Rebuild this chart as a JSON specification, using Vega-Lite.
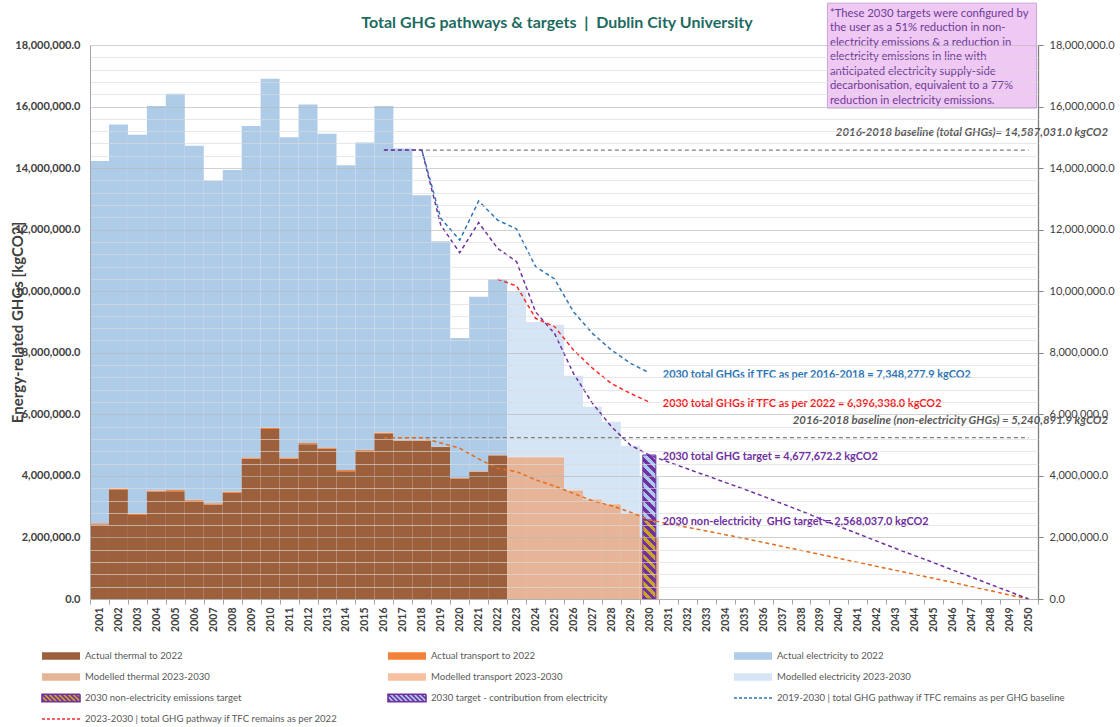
{
  "$schema": "https://vega.github.io/schema/vega-lite/v6.json",
  "width": 948,
  "height": 554,
  "autosize": {"type": "none"},
  "padding": {"left": 90, "top": 45, "right": 82, "bottom": 128},
  "background": "white",
  "config": {"view": {"stroke": null}, "font": "Lato"},
  "title": {
    "text": "Total GHG pathways & targets \u00a0|\u00a0 Dublin City University",
    "font": "Lato", "fontSize": 16, "fontWeight": "bold", "color": "#1d6b5f",
    "anchor": "middle", "frame": "group", "offset": 13, "dx": -7, "dy": 41
  },
  "datasets": {
    "bars": [
      {"year":"2001","s":"Actual thermal to 2022","v":2420000},{"year":"2001","s":"Actual transport to 2022","v":40000},{"year":"2001","s":"Actual electricity to 2022","v":11770000},
      {"year":"2002","s":"Actual thermal to 2022","v":3540000},{"year":"2002","s":"Actual transport to 2022","v":40000},{"year":"2002","s":"Actual electricity to 2022","v":11840000},
      {"year":"2003","s":"Actual thermal to 2022","v":2730000},{"year":"2003","s":"Actual transport to 2022","v":40000},{"year":"2003","s":"Actual electricity to 2022","v":12310000},
      {"year":"2004","s":"Actual thermal to 2022","v":3480000},{"year":"2004","s":"Actual transport to 2022","v":40000},{"year":"2004","s":"Actual electricity to 2022","v":12500000},
      {"year":"2005","s":"Actual thermal to 2022","v":3500000},{"year":"2005","s":"Actual transport to 2022","v":40000},{"year":"2005","s":"Actual electricity to 2022","v":12880000},
      {"year":"2006","s":"Actual thermal to 2022","v":3190000},{"year":"2006","s":"Actual transport to 2022","v":40000},{"year":"2006","s":"Actual electricity to 2022","v":11500000},
      {"year":"2007","s":"Actual thermal to 2022","v":3070000},{"year":"2007","s":"Actual transport to 2022","v":40000},{"year":"2007","s":"Actual electricity to 2022","v":10480000},
      {"year":"2008","s":"Actual thermal to 2022","v":3450000},{"year":"2008","s":"Actual transport to 2022","v":40000},{"year":"2008","s":"Actual electricity to 2022","v":10450000},
      {"year":"2009","s":"Actual thermal to 2022","v":4560000},{"year":"2009","s":"Actual transport to 2022","v":40000},{"year":"2009","s":"Actual electricity to 2022","v":10770000},
      {"year":"2010","s":"Actual thermal to 2022","v":5520000},{"year":"2010","s":"Actual transport to 2022","v":40000},{"year":"2010","s":"Actual electricity to 2022","v":11340000},
      {"year":"2011","s":"Actual thermal to 2022","v":4560000},{"year":"2011","s":"Actual transport to 2022","v":40000},{"year":"2011","s":"Actual electricity to 2022","v":10400000},
      {"year":"2012","s":"Actual thermal to 2022","v":5030000},{"year":"2012","s":"Actual transport to 2022","v":40000},{"year":"2012","s":"Actual electricity to 2022","v":11000000},
      {"year":"2013","s":"Actual thermal to 2022","v":4880000},{"year":"2013","s":"Actual transport to 2022","v":40000},{"year":"2013","s":"Actual electricity to 2022","v":10200000},
      {"year":"2014","s":"Actual thermal to 2022","v":4150000},{"year":"2014","s":"Actual transport to 2022","v":40000},{"year":"2014","s":"Actual electricity to 2022","v":9900000},
      {"year":"2015","s":"Actual thermal to 2022","v":4810000},{"year":"2015","s":"Actual transport to 2022","v":40000},{"year":"2015","s":"Actual electricity to 2022","v":9980000},
      {"year":"2016","s":"Actual thermal to 2022","v":5360000},{"year":"2016","s":"Actual transport to 2022","v":40000},{"year":"2016","s":"Actual electricity to 2022","v":10620000},
      {"year":"2017","s":"Actual thermal to 2022","v":5145000},{"year":"2017","s":"Actual transport to 2022","v":15000},{"year":"2017","s":"Actual electricity to 2022","v":9480000},
      {"year":"2018","s":"Actual thermal to 2022","v":5145000},{"year":"2018","s":"Actual transport to 2022","v":15000},{"year":"2018","s":"Actual electricity to 2022","v":7960000},
      {"year":"2019","s":"Actual thermal to 2022","v":4935000},{"year":"2019","s":"Actual transport to 2022","v":15000},{"year":"2019","s":"Actual electricity to 2022","v":6670000},
      {"year":"2020","s":"Actual thermal to 2022","v":3915000},{"year":"2020","s":"Actual transport to 2022","v":15000},{"year":"2020","s":"Actual electricity to 2022","v":4550000},
      {"year":"2021","s":"Actual thermal to 2022","v":4135000},{"year":"2021","s":"Actual transport to 2022","v":15000},{"year":"2021","s":"Actual electricity to 2022","v":5670000},
      {"year":"2022","s":"Actual thermal to 2022","v":4665000},{"year":"2022","s":"Actual transport to 2022","v":15000},{"year":"2022","s":"Actual electricity to 2022","v":5710000},
      {"year":"2023","s":"Modelled thermal 2023-2030","v":4605000},{"year":"2023","s":"Modelled transport 2023-2030","v":15000},{"year":"2023","s":"Modelled electricity 2023-2030","v":5360000},
      {"year":"2024","s":"Modelled thermal 2023-2030","v":4605000},{"year":"2024","s":"Modelled transport 2023-2030","v":15000},{"year":"2024","s":"Modelled electricity 2023-2030","v":4380000},
      {"year":"2025","s":"Modelled thermal 2023-2030","v":4605000},{"year":"2025","s":"Modelled transport 2023-2030","v":15000},{"year":"2025","s":"Modelled electricity 2023-2030","v":4280000},
      {"year":"2026","s":"Modelled thermal 2023-2030","v":3525000},{"year":"2026","s":"Modelled transport 2023-2030","v":15000},{"year":"2026","s":"Modelled electricity 2023-2030","v":3710000},
      {"year":"2027","s":"Modelled thermal 2023-2030","v":3235000},{"year":"2027","s":"Modelled transport 2023-2030","v":15000},{"year":"2027","s":"Modelled electricity 2023-2030","v":3000000},
      {"year":"2028","s":"Modelled thermal 2023-2030","v":3075000},{"year":"2028","s":"Modelled transport 2023-2030","v":15000},{"year":"2028","s":"Modelled electricity 2023-2030","v":2670000},
      {"year":"2029","s":"Modelled thermal 2023-2030","v":2765000},{"year":"2029","s":"Modelled transport 2023-2030","v":15000},{"year":"2029","s":"Modelled electricity 2023-2030","v":2200000},
      {"year":"2030","s":"Modelled thermal 2023-2030","v":1985000},{"year":"2030","s":"Modelled transport 2023-2030","v":15000},{"year":"2030","s":"Modelled electricity 2023-2030","v":1970000}
    ],
    "targets": [
      {"year":"2030","lo":0,"hi":2568037,"part":"non-electricity"},
      {"year":"2030","lo":2568037,"hi":4677672.2,"part":"electricity"}
    ],
    "base_total": [{"year":"2016","v":14587031},{"year":"2050","v":14587031}],
    "base_nonel": [{"year":"2016","v":5240891.9},{"year":"2050","v":5240891.9}],
    "nonel": [
      {"year":"2016","v":5240891.9},{"year":"2017","v":5240891.9},{"year":"2018","v":5240891.9},{"year":"2019","v":5070000},{"year":"2020","v":4900000},{"year":"2021","v":4550000},{"year":"2022","v":4250000},{"year":"2023","v":4140000},{"year":"2024","v":3870000},{"year":"2025","v":3670000},{"year":"2026","v":3430000},{"year":"2027","v":3190000},{"year":"2028","v":3030000},{"year":"2029","v":2820000},{"year":"2030","v":2568037},
      {"year":"2031","v":2450000},{"year":"2032","v":2330000},{"year":"2033","v":2210000},{"year":"2034","v":2090000},{"year":"2035","v":1970000},{"year":"2036","v":1840000},{"year":"2037","v":1710000},{"year":"2038","v":1580000},{"year":"2039","v":1450000},{"year":"2040","v":1320000},{"year":"2041","v":1190000},{"year":"2042","v":1060000},{"year":"2043","v":930000},{"year":"2044","v":800000},{"year":"2045","v":670000},{"year":"2046","v":540000},{"year":"2047","v":400000},{"year":"2048","v":270000},{"year":"2049","v":130000},{"year":"2050","v":0}
    ],
    "tgt": [
      {"year":"2016","v":14587031},{"year":"2017","v":14587031},{"year":"2018","v":14587031},{"year":"2019","v":12150000},{"year":"2020","v":11250000},{"year":"2021","v":12230000},{"year":"2022","v":11390000},{"year":"2023","v":10960000},{"year":"2024","v":9330000},{"year":"2025","v":8630000},{"year":"2026","v":7330000},{"year":"2027","v":6360000},{"year":"2028","v":5600000},{"year":"2029","v":5000000},{"year":"2030","v":4677672.2},
      {"year":"2031","v":4450000},{"year":"2032","v":4230000},{"year":"2033","v":4010000},{"year":"2034","v":3790000},{"year":"2035","v":3570000},{"year":"2036","v":3340000},{"year":"2037","v":3100000},{"year":"2038","v":2860000},{"year":"2039","v":2610000},{"year":"2040","v":2360000},{"year":"2041","v":2120000},{"year":"2042","v":1880000},{"year":"2043","v":1640000},{"year":"2044","v":1410000},{"year":"2045","v":1180000},{"year":"2046","v":940000},{"year":"2047","v":710000},{"year":"2048","v":470000},{"year":"2049","v":240000},{"year":"2050","v":0}
    ],
    "tfc_base": [
      {"year":"2018","v":14587031},{"year":"2019","v":12370000},{"year":"2020","v":11660000},{"year":"2021","v":12930000},{"year":"2022","v":12310000},{"year":"2023","v":12020000},{"year":"2024","v":10800000},{"year":"2025","v":10400000},{"year":"2026","v":9330000},{"year":"2027","v":8630000},{"year":"2028","v":8090000},{"year":"2029","v":7660000},{"year":"2030","v":7348277.9}
    ],
    "tfc_2022": [
      {"year":"2022","v":10390000},{"year":"2023","v":10170000},{"year":"2024","v":9120000},{"year":"2025","v":8850000},{"year":"2026","v":8090000},{"year":"2027","v":7500000},{"year":"2028","v":7000000},{"year":"2029","v":6680000},{"year":"2030","v":6396338}
    ],
    "labels": [
      {"year":"2050","v":14587031,"t":"2016-2018 baseline (total GHGs)= 14,587,031.0 kgCO2","kind":"baseline"},
      {"year":"2050","v":5240891.9,"t":"2016-2018 baseline (non-electricity GHGs) = 5,240,891.9 kgCO2","kind":"baseline"},
      {"year":"2030","v":7348277.9,"t":"2030 total GHGs if TFC as per 2016-2018 = 7,348,277.9 kgCO2","kind":"tfc2016"},
      {"year":"2030","v":6396338,"t":"2030 total GHGs if TFC as per 2022 = 6,396,338.0 kgCO2","kind":"tfc2022"},
      {"year":"2030","v":4677672.2,"t":"2030 total GHG target = 4,677,672.2 kgCO2","kind":"target"},
      {"year":"2030","v":2568037,"t":"2030 non-electricity \u00a0GHG target = 2,568,037.0 kgCO2","kind":"target"}
    ],
    "note": [
      {"t": ["*These 2030 targets were configured by", "the user as a 51% reduction in non-", "electricity emissions & a reduction in", "electricity emissions in line with", "anticipated electricity supply-side", "decarbonisation, equivalent to a 77%", "reduction in electricity emissions."]}
    ]
  },
  "resolve": {"scale": {"y": "independent"}},
  "layer": [
    {
      "layer": [
        {
          "data": {"name": "bars"},
          "transform": [{"calculate": "indexof(datum.s, 'thermal') >= 0 ? 0 : (indexof(datum.s, 'transport') >= 0 ? 1 : 2)", "as": "k"}],
          "mark": {"type": "bar"},
          "encoding": {
            "x": {
              "field": "year", "type": "ordinal",
              "scale": {"domain": ["2001","2002","2003","2004","2005","2006","2007","2008","2009","2010","2011","2012","2013","2014","2015","2016","2017","2018","2019","2020","2021","2022","2023","2024","2025","2026","2027","2028","2029","2030","2031","2032","2033","2034","2035","2036","2037","2038","2039","2040","2041","2042","2043","2044","2045","2046","2047","2048","2049","2050"], "paddingInner": 0, "paddingOuter": 0},
              "axis": {"title": null, "labelAngle": -90, "labelOverlap": false, "tickBand": "extent", "tickSize": 5, "tickColor": "#a6a6a6", "domainColor": "#a6a6a6", "labelFont": "Lato", "labelFontWeight": "bold", "labelFontSize": 10.5, "labelColor": "#404040", "labelPadding": 3, "grid": false}
            },
            "y": {
              "field": "v", "type": "quantitative", "stack": "zero",
              "scale": {"domain": [0, 18000000]},
              "axis": {
                "orient": "left",
                "values": [0,400000,800000,1200000,1600000,2000000,2400000,2800000,3200000,3600000,4000000,4400000,4800000,5200000,5600000,6000000,6400000,6800000,7200000,7600000,8000000,8400000,8800000,9200000,9600000,10000000,10400000,10800000,11200000,11600000,12000000,12400000,12800000,13200000,13600000,14000000,14400000,14800000,15200000,15600000,16000000,16400000,16800000,17200000,17600000,18000000],
                "tickCount": 100,
                "labelExpr": "datum.value % 2000000 === 0 ? format(datum.value, ',.1f') : ''",
                "labelOverlap": false,
                "grid": true,
                "gridColor": {"condition": {"test": "datum.value % 2000000 === 0", "value": "#b8b8b8"}, "value": "#dcdcdc"},
                "gridOpacity": 0.65,
                "ticks": false,
                "domainColor": "#a6a6a6",
                "labelFont": "Lato", "labelFontWeight": "bold", "labelFontSize": 11, "labelColor": "#404040", "labelPadding": 10,
                "title": "Energy-related GHGs [kgCO2]",
                "titleFont": "Lato", "titleFontSize": 15, "titleFontWeight": "bold", "titleColor": "#404040",
                "titleX": -73, "titleY": 277, "titleAlign": "center", "titleBaseline": "middle", "titleAngle": -90,
                "zindex": 1
              }
            },
            "fill": {
              "field": "s", "type": "nominal",
              "scale": {
                "domain": ["Actual thermal to 2022","Actual transport to 2022","Actual electricity to 2022","Modelled thermal 2023-2030","Modelled transport 2023-2030","Modelled electricity 2023-2030","2030 non-electricity emissions target","2030 target - contribution from electricity","2019-2030 | total GHG pathway if TFC remains as per GHG baseline","2023-2030 | total GHG pathway if TFC remains as per 2022"],
                "range": ["#9d603c","#f4813a","#aecbe8","#e6b497","#f8bfa0","#d6e5f5","#c9a227","#a9c8ee","#2e75b6","#ff2a2a"]
              },
              "legend": {
                "orient": "none", "legendX": -35, "legendY": 605, "direction": "horizontal", "columns": 3, "gridAlign": "all",
                "columnPadding": 10, "rowPadding": 7, "title": null, "padding": 0,
                "labelFont": "Lato", "labelFontSize": 9.6, "labelColor": "#595959", "labelLimit": 500, "labelOffset": 18,
                "symbolSize": 100, "symbolType": "M-3.8,-0.76H3.8V0.76H-3.8Z",
                "encode": {
                  "symbols": {
                    "update": {
                      "shape": {"signal": "indexof(datum.value, 'pathway') >= 0 ? 'M-3.8,0H3.8' : (indexof(datum.value, '2030 ') === 0 ? 'M-3.8,0.19L-3.23,0.76M-3.8,-0.76L-2.28,0.76M-2.85,-0.76L-1.33,0.76M-1.9,-0.76L-0.38,0.76M-0.95,-0.76L0.57,0.76M0,-0.76L1.52,0.76M0.95,-0.76L2.47,0.76M1.9,-0.76L3.42,0.76M2.85,-0.76L3.8,0.19M-3.8,-0.76H3.8V0.76H-3.8Z' : 'M-3.8,-0.76H3.8V0.76H-3.8Z')"},
                      "size": {"value": 100},
                      "opacity": {"value": 1},
                      "stroke": {"signal": "indexof(datum.value, 'pathway') >= 0 ? scale('fill', datum.value) : (indexof(datum.value, '2030 ') === 0 ? '#7030a0' : 'transparent')"},
                      "strokeDash": {"signal": "indexof(datum.value, 'pathway') >= 0 ? [3, 2] : [1, 0]"},
                      "strokeWidth": {"value": 1.6}
                    }
                  }
                }
              }
            },
            "order": {"field": "k", "type": "quantitative", "sort": "ascending"}
          }
        },
        {
          "data": {"name": "targets"},
          "transform": [{"filter": "datum.part === 'non-electricity'"}],
          "mark": {
            "type": "bar", "size": 13, "stroke": "#7030a0", "strokeWidth": 1,
            "fill": {"gradient": "linear", "x1": 0, "y1": 1, "x2": 0.1866, "y2": -0.1339, "stops": [
              {"offset": 0, "color": "#7030a0"}, {"offset": 0.05, "color": "#7030a0"}, {"offset": 0.05, "color": "#c9a227"}, {"offset": 0.1, "color": "#c9a227"},
              {"offset": 0.1, "color": "#7030a0"}, {"offset": 0.15, "color": "#7030a0"}, {"offset": 0.15, "color": "#c9a227"}, {"offset": 0.2, "color": "#c9a227"},
              {"offset": 0.2, "color": "#7030a0"}, {"offset": 0.25, "color": "#7030a0"}, {"offset": 0.25, "color": "#c9a227"}, {"offset": 0.3, "color": "#c9a227"},
              {"offset": 0.3, "color": "#7030a0"}, {"offset": 0.35, "color": "#7030a0"}, {"offset": 0.35, "color": "#c9a227"}, {"offset": 0.4, "color": "#c9a227"},
              {"offset": 0.4, "color": "#7030a0"}, {"offset": 0.45, "color": "#7030a0"}, {"offset": 0.45, "color": "#c9a227"}, {"offset": 0.5, "color": "#c9a227"},
              {"offset": 0.5, "color": "#7030a0"}, {"offset": 0.55, "color": "#7030a0"}, {"offset": 0.55, "color": "#c9a227"}, {"offset": 0.6, "color": "#c9a227"},
              {"offset": 0.6, "color": "#7030a0"}, {"offset": 0.65, "color": "#7030a0"}, {"offset": 0.65, "color": "#c9a227"}, {"offset": 0.7, "color": "#c9a227"},
              {"offset": 0.7, "color": "#7030a0"}, {"offset": 0.75, "color": "#7030a0"}, {"offset": 0.75, "color": "#c9a227"}, {"offset": 0.8, "color": "#c9a227"},
              {"offset": 0.8, "color": "#7030a0"}, {"offset": 0.85, "color": "#7030a0"}, {"offset": 0.85, "color": "#c9a227"}, {"offset": 0.9, "color": "#c9a227"},
              {"offset": 0.9, "color": "#7030a0"}, {"offset": 0.95, "color": "#7030a0"}, {"offset": 0.95, "color": "#c9a227"}, {"offset": 1, "color": "#c9a227"}
            ]}
          },
          "encoding": {
            "x": {"field": "year", "type": "ordinal"},
            "y": {"field": "lo", "type": "quantitative", "scale": {"domain": [0, 18000000]}},
            "y2": {"field": "hi"}
          }
        },
        {
          "data": {"name": "targets"},
          "transform": [{"filter": "datum.part === 'electricity'"}],
          "mark": {
            "type": "bar", "size": 13, "stroke": "#7030a0", "strokeWidth": 1,
            "fill": {"gradient": "linear", "x1": 0, "y1": 1, "x2": 0.2312, "y2": -0.154, "stops": [
              {"offset": 0, "color": "#7030a0"}, {"offset": 0.0625, "color": "#7030a0"}, {"offset": 0.0625, "color": "#a9c8ee"}, {"offset": 0.125, "color": "#a9c8ee"},
              {"offset": 0.125, "color": "#7030a0"}, {"offset": 0.1875, "color": "#7030a0"}, {"offset": 0.1875, "color": "#a9c8ee"}, {"offset": 0.25, "color": "#a9c8ee"},
              {"offset": 0.25, "color": "#7030a0"}, {"offset": 0.3125, "color": "#7030a0"}, {"offset": 0.3125, "color": "#a9c8ee"}, {"offset": 0.375, "color": "#a9c8ee"},
              {"offset": 0.375, "color": "#7030a0"}, {"offset": 0.4375, "color": "#7030a0"}, {"offset": 0.4375, "color": "#a9c8ee"}, {"offset": 0.5, "color": "#a9c8ee"},
              {"offset": 0.5, "color": "#7030a0"}, {"offset": 0.5625, "color": "#7030a0"}, {"offset": 0.5625, "color": "#a9c8ee"}, {"offset": 0.625, "color": "#a9c8ee"},
              {"offset": 0.625, "color": "#7030a0"}, {"offset": 0.6875, "color": "#7030a0"}, {"offset": 0.6875, "color": "#a9c8ee"}, {"offset": 0.75, "color": "#a9c8ee"},
              {"offset": 0.75, "color": "#7030a0"}, {"offset": 0.8125, "color": "#7030a0"}, {"offset": 0.8125, "color": "#a9c8ee"}, {"offset": 0.875, "color": "#a9c8ee"},
              {"offset": 0.875, "color": "#7030a0"}, {"offset": 0.9375, "color": "#7030a0"}, {"offset": 0.9375, "color": "#a9c8ee"}, {"offset": 1, "color": "#a9c8ee"}
            ]}
          },
          "encoding": {
            "x": {"field": "year", "type": "ordinal"},
            "y": {"field": "lo", "type": "quantitative", "scale": {"domain": [0, 18000000]}},
            "y2": {"field": "hi"}
          }
        },
        {
          "data": {"name": "base_total"},
          "mark": {"type": "line", "color": "#7f7f7f", "strokeDash": [4, 3], "strokeWidth": 1.2},
          "encoding": {"x": {"field": "year", "type": "ordinal"}, "y": {"field": "v", "type": "quantitative", "scale": {"domain": [0, 18000000]}}}
        },
        {
          "data": {"name": "base_nonel"},
          "mark": {"type": "line", "color": "#7f7f7f", "strokeDash": [4, 3], "strokeWidth": 1.2},
          "encoding": {"x": {"field": "year", "type": "ordinal"}, "y": {"field": "v", "type": "quantitative", "scale": {"domain": [0, 18000000]}}}
        },
        {
          "data": {"name": "nonel"},
          "mark": {"type": "line", "color": "#e46c1e", "strokeDash": [4, 3], "strokeWidth": 1.5},
          "encoding": {"x": {"field": "year", "type": "ordinal"}, "y": {"field": "v", "type": "quantitative", "scale": {"domain": [0, 18000000]}}}
        },
        {
          "data": {"name": "tgt"},
          "mark": {"type": "line", "color": "#7030a0", "strokeDash": [4, 3], "strokeWidth": 1.5},
          "encoding": {"x": {"field": "year", "type": "ordinal"}, "y": {"field": "v", "type": "quantitative", "scale": {"domain": [0, 18000000]}}}
        },
        {
          "data": {"name": "tfc_base"},
          "mark": {"type": "line", "color": "#2e75b6", "strokeDash": [4, 3], "strokeWidth": 1.5},
          "encoding": {"x": {"field": "year", "type": "ordinal"}, "y": {"field": "v", "type": "quantitative", "scale": {"domain": [0, 18000000]}}}
        },
        {
          "data": {"name": "tfc_2022"},
          "mark": {"type": "line", "color": "#ff2a2a", "strokeDash": [4, 3], "strokeWidth": 1.5},
          "encoding": {"x": {"field": "year", "type": "ordinal"}, "y": {"field": "v", "type": "quantitative", "scale": {"domain": [0, 18000000]}}}
        },
        {
          "data": {"name": "labels"},
          "transform": [{"filter": "datum.kind === 'baseline'"}],
          "mark": {"type": "text", "align": "right", "baseline": "middle", "dx": 79.5, "dy": -17, "font": "Lato", "fontSize": 11.4, "fontStyle": "italic", "fontWeight": "bold", "color": "#595959"},
          "encoding": {"x": {"field": "year", "type": "ordinal"}, "y": {"field": "v", "type": "quantitative", "scale": {"domain": [0, 18000000]}}, "text": {"field": "t"}}
        },
        {
          "data": {"name": "labels"},
          "transform": [{"filter": "datum.kind === 'tfc2016'"}],
          "mark": {"type": "text", "align": "left", "baseline": "middle", "dx": 13.5, "dy": 2, "font": "Lato", "fontSize": 10.9, "fontWeight": "bold", "color": "#2e75b6"},
          "encoding": {"x": {"field": "year", "type": "ordinal"}, "y": {"field": "v", "type": "quantitative", "scale": {"domain": [0, 18000000]}}, "text": {"field": "t"}}
        },
        {
          "data": {"name": "labels"},
          "transform": [{"filter": "datum.kind === 'tfc2022'"}],
          "mark": {"type": "text", "align": "left", "baseline": "middle", "dx": 13.5, "dy": 2, "font": "Lato", "fontSize": 10.9, "fontWeight": "bold", "color": "#f01e1e"},
          "encoding": {"x": {"field": "year", "type": "ordinal"}, "y": {"field": "v", "type": "quantitative", "scale": {"domain": [0, 18000000]}}, "text": {"field": "t"}}
        },
        {
          "data": {"name": "labels"},
          "transform": [{"filter": "datum.kind === 'target'"}],
          "mark": {"type": "text", "align": "left", "baseline": "middle", "dx": 13.5, "dy": 2, "font": "Lato", "fontSize": 10.9, "fontWeight": "bold", "color": "#7030a0"},
          "encoding": {"x": {"field": "year", "type": "ordinal"}, "y": {"field": "v", "type": "quantitative", "scale": {"domain": [0, 18000000]}}, "text": {"field": "t"}}
        }
      ]
    },
    {
      "data": {"name": "note"},
      "layer": [
        {
          "mark": {"type": "rect", "fill": "#efc8f4", "stroke": "#c9a6d6", "strokeWidth": 1, "xOffset": -11.5, "x2Offset": 8},
          "encoding": {
            "x": {"datum": "2040", "type": "ordinal"},
            "x2": {"datum": "2050"},
            "y": {
              "datum": 19360000, "type": "quantitative",
              "scale": {"domain": [0, 18000000]},
              "axis": {"orient": "right", "values": [0,2000000,4000000,6000000,8000000,10000000,12000000,14000000,16000000,18000000], "format": ",.1f", "grid": false, "title": null, "labelOverlap": false, "tickSize": 5, "tickColor": "#7f7f7f", "domainColor": "#7f7f7f", "domainWidth": 1.3, "labelFont": "Lato", "labelFontSize": 11, "labelColor": "#404040", "labelPadding": 6}
            },
            "y2": {"datum": 15950000}
          }
        },
        {
          "mark": {"type": "text", "align": "left", "baseline": "top", "dx": -9, "dy": 1, "font": "Lato", "fontSize": 11.3, "color": "#6e3c96", "lineHeight": 14.5},
          "encoding": {
            "x": {"datum": "2040", "type": "ordinal"},
            "y": {"datum": 19250000, "type": "quantitative"},
            "text": {"field": "t"}
          }
        }
      ]
    }
  ]
}
